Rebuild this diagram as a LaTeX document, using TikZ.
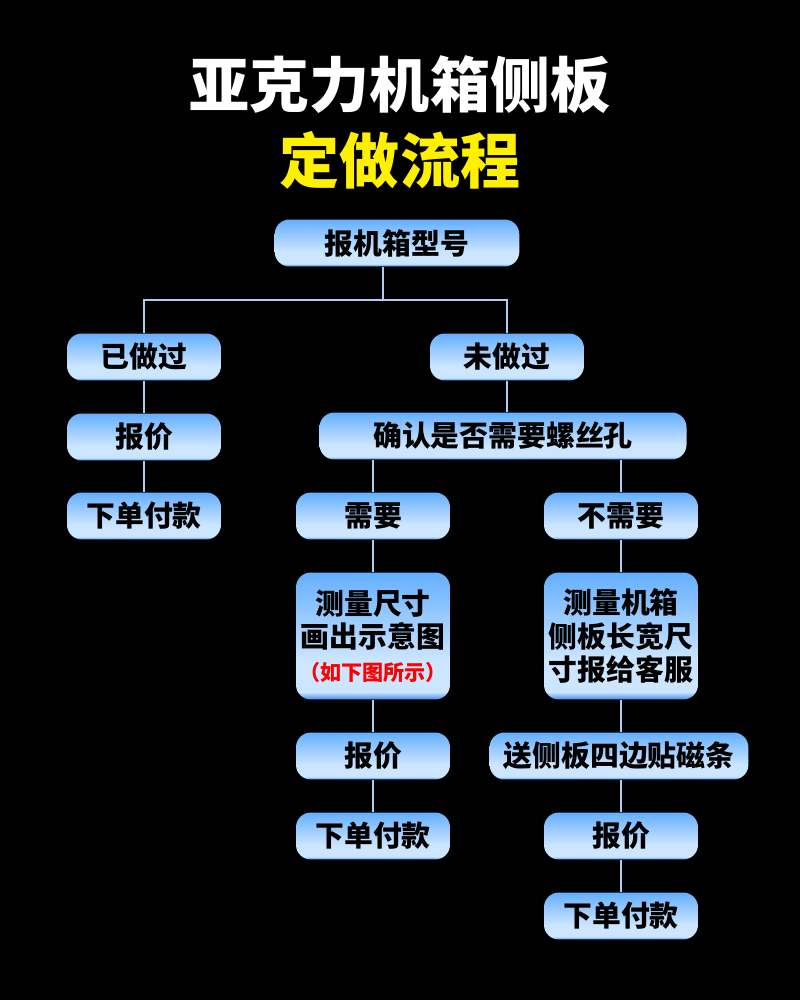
\documentclass[tikz,border=0pt]{standalone}
\usepackage{fontspec}
\newfontfamily\cjk{Noto Sans CJK SC}[BoldFont={Noto Sans CJK SC Black}]
\usetikzlibrary{positioning}
\definecolor{btop}{RGB}{100,175,255}
\definecolor{blight}{RGB}{205,230,255}
\definecolor{bdark}{RGB}{70,140,240}
\definecolor{lk}{RGB}{175,205,240}
\definecolor{ttl}{RGB}{255,240,0}
\pgfdeclareverticalshading{boxshade}{100bp}{color(0bp)=(bdark); color(25bp)=(bdark); color(28bp)=(blight); color(40bp)=(blight); color(75bp)=(btop); color(100bp)=(btop)}

\begin{document}
\begin{tikzpicture}[x=0.025cm,y=-0.025cm,
  box/.style={rounded corners=10.5pt,shading=boxshade,minimum width=109.5pt,minimum height=33.4pt,
    inner sep=0pt,align=center,font=\cjk\bfseries\fontsize{20.5pt}{23.5pt}\selectfont},
  link/.style={draw=lk,line width=1.4pt}]
  \fill[black] (0,0) rectangle (800,1000);
  \useasboundingbox (0,0) rectangle (800,1000);
  % title
  \node[font=\cjk\bfseries\fontsize{42.7pt}{48pt}\selectfont,text=white] (title) at (400,85) {亚克力机箱侧板};
  \node[font=\cjk\bfseries\fontsize{42.7pt}{48pt}\selectfont,text=ttl] (subtitle) at (400,160) {定做流程};
  % boxes
  \node[box,minimum width=174pt] (model) at (397,243) {报机箱型号};
  \node[box] (done) at (144,357) {已做过};
  \node[box] (notdone) at (507,357) {未做过};
  \node[box] (priceA) at (144,437) {报价};
  \node[box] (orderA) at (144,516) {下单付款};
  \node[box,minimum width=261pt] (screw) at (503,436) {确认是否需要螺丝孔};
  \node[box] (need) at (373,516) {需要};
  \node[box] (noneed) at (621,516) {不需要};
  \node[box,minimum height=90.3pt] (sketch) at (373,636) {测量尺寸\\画出示意图\\{\color{red}\fontsize{15pt}{20pt}\selectfont（如下图所示）}};
  \node[box,minimum height=90.3pt] (measure) at (621,636) {测量机箱\\侧板长宽尺\\寸报给客服};
  \node[box] (priceB) at (373,756) {报价};
  \node[box,minimum width=184pt] (magnet) at (619,756) {送侧板四边贴磁条};
  \node[box] (orderB) at (373,836) {下单付款};
  \node[box] (priceC) at (621,836) {报价};
  \node[box] (orderC) at (621,916) {下单付款};
  % links
  \coordinate (split) at (383,300);
  \draw[link] (split) -- (split |- model.south);
  \draw[link] (done.north) |- (split) -| (notdone.north);
  \draw[link] (done) -- (priceA);
  \draw[link] (priceA) -- (orderA);
  \draw[link] (notdone) -- (notdone |- screw.north);
  \draw[link] (need) -- (need |- screw.south);
  \draw[link] (noneed) -- (noneed |- screw.south);
  \foreach \a/\b in {need/sketch,sketch/priceB,priceB/orderB,noneed/measure,measure/magnet,priceC/orderC}
    \draw[link] (\a.south) -- (\a.south |- \b.north);
  \draw[link] (priceC.north) -- (priceC.north |- magnet.south);
\end{tikzpicture}
\end{document}
